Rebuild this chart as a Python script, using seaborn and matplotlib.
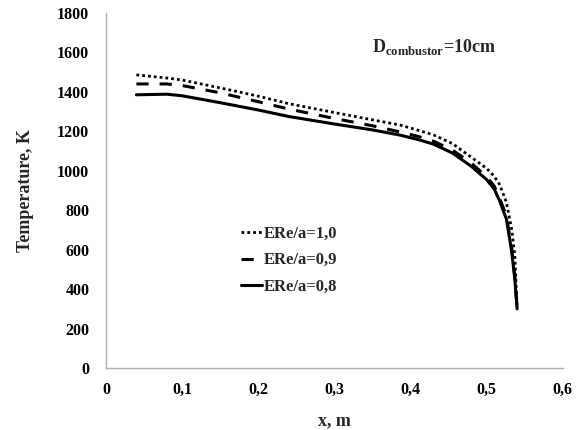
import numpy as np
import pandas as pd
import matplotlib
matplotlib.use("Agg")
import matplotlib.pyplot as plt
import seaborn as sns

# x positions (m) and temperatures (K)
x_pos = [0.04, 0.08, 0.10, 0.15, 0.20, 0.24, 0.30, 0.35, 0.386, 0.412, 0.43,
         0.455, 0.48, 0.50, 0.51, 0.517, 0.526, 0.533, 0.537, 0.54]
t_er10 = [1486, 1470, 1460, 1420, 1378, 1340, 1295, 1258, 1232, 1203, 1182,
          1138, 1068, 1012, 972, 930, 840, 700, 570, 300]
t_er09 = [1440, 1440, 1432, 1395, 1350, 1313, 1265, 1228, 1197, 1172, 1150,
          1105, 1038, 970, 922, 862, 770, 605, 465, 300]
t_er08 = [1385, 1388, 1380, 1345, 1308, 1275, 1237, 1207, 1181, 1156, 1135,
          1090, 1022, 955, 907, 848, 755, 588, 450, 300]
labels = ["ERe/a=1,0", "ERe/a=0,9", "ERe/a=0,8"]
styles = [(0, (1, 1.1)), (0, (4, 3.6)), "-"]
widths = [2.0, 2.2, 2.2]

sns.set_style("white")
plt.rcParams["font.family"] = ["Liberation Serif", "DejaVu Serif"]
plt.rcParams["font.weight"] = "bold"
plt.rcParams["mathtext.fontset"] = "custom"
plt.rcParams["mathtext.rm"] = "Liberation Serif:bold"
plt.rcParams["mathtext.bf"] = "Liberation Serif:bold"

fig = plt.figure(figsize=(5.82, 4.30), dpi=100)
ax = fig.add_axes([0.182, 0.144, 0.785, 0.826])

for t, lab, ls, lw in zip([t_er10, t_er09, t_er08], labels, styles, widths):
    df = pd.DataFrame({"x": x_pos, "T": t})
    sns.lineplot(data=df, x="x", y="T", ax=ax, color="black", lw=lw,
                 linestyle=ls, label=lab, sort=False)

ax.set_xlim(0, 0.6)
ax.set_ylim(0, 1800)
ax.set_xticks(np.arange(0, 0.61, 0.1))
ax.set_xticklabels(["0", "0,1", "0,2", "0,3", "0,4", "0,5", "0,6"])
ax.set_yticks(np.arange(0, 1801, 200))
ax.tick_params(axis="both", labelsize=11.5, labelcolor="black", length=4,
               width=0.8, direction="out", pad=8, color="#b0b0b0")
ax.tick_params(axis="x", pad=6)
for s in ["top", "right"]:
    ax.spines[s].set_visible(False)
for s in ["left", "bottom"]:
    ax.spines[s].set_color("#b0b0b0")
    ax.spines[s].set_linewidth(1.0)
for lbl in ax.get_xticklabels() + ax.get_yticklabels():
    lbl.set_fontweight("bold")

ax.set_xlabel("x, m", fontsize=13, fontweight="bold", labelpad=10)
ax.set_ylabel("Temperature, K", fontsize=13, fontweight="bold", labelpad=17)

ax.text(0.349, 1602, r"$\mathrm{D}_{\mathrm{combustor}}$=10cm", fontsize=13,
        fontweight="bold", ha="left", va="baseline")

leg = ax.legend(loc="upper left", bbox_to_anchor=(0.295, 0.40), frameon=False,
                borderpad=0, borderaxespad=0, handlelength=1.3,
                handletextpad=0.1, labelspacing=0.62,
                prop={"size": 12, "weight": "bold"})

fig.savefig("out.png", dpi=100)
